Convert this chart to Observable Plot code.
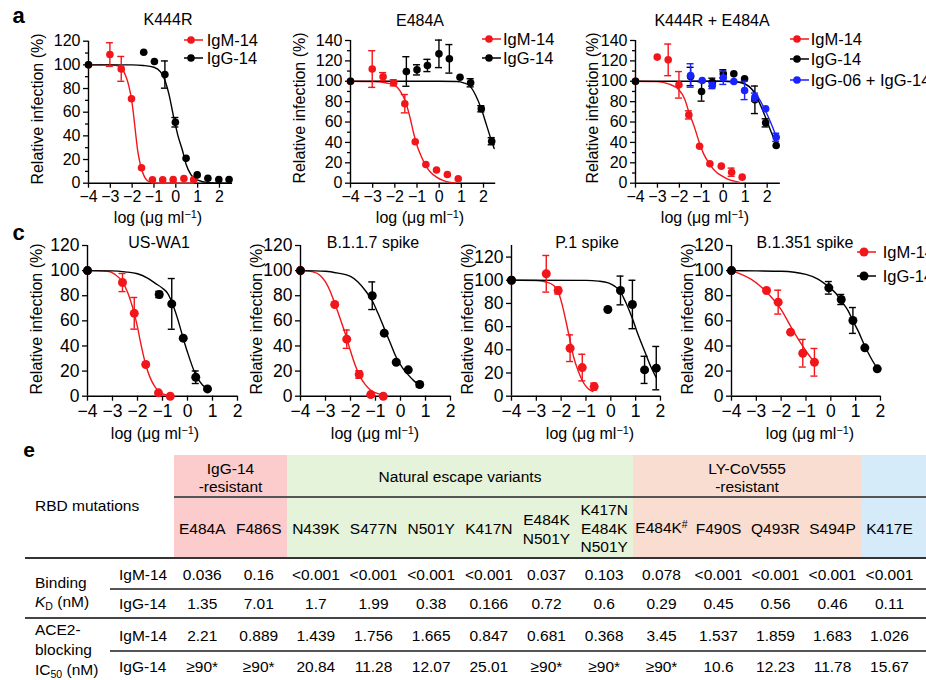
<!DOCTYPE html>
<html><head><meta charset="utf-8">
<script src="https://cdn.jsdelivr.net/npm/d3@7"></script>
<script src="https://cdn.jsdelivr.net/npm/@observablehq/plot@0.6"></script>
<style>
html,body{margin:0;padding:0;background:#fff;}
#fig{position:relative;width:926px;height:680px;overflow:hidden;font-family:"Liberation Sans",Arial,Helvetica,sans-serif;color:#000;}
.abs{position:absolute;white-space:nowrap;line-height:1;}
.c{transform:translate(-50%,-50%);text-align:center;}
.l{transform:translate(0,-50%);}
.rot{transform:translate(-50%,-50%) rotate(-90deg);}
.sup{font-size:0.68em;position:relative;top:-0.5em;}
.sub{font-size:0.68em;position:relative;top:0.3em;}
</style></head><body><div id="fig"></div>
<script>
// ---------- Panel a: K444R ----------
const a1_igm_x = [-4, -3.02, -2.5, -2.03, -1.57, -1.07, -0.6, -0.12, 0.37, 0.82];
const a1_igm_y = [100, 108.7, 96.6, 71.3, 13, 2.8, 2.8, 3, 4, 3];
const a1_igm_e = [0, 10, 10.5, 0, 0, 0, 0, 0, 0, 0];
const a1_igg_x = [-4, -1.47, -0.98, -0.5, -0.02, 0.47, 0.98, 1.47, 1.97, 2.44];
const a1_igg_y = [100, 110.7, 102.8, 91.8, 51.5, 21, 7, 4.2, 3.1, 3.1];
const a1_igg_e = [0, 0, 0, 11.5, 4, 0, 0, 0, 0, 0];
const a1_igm_fx = [-4, -3, -2.7, -2.5, -2.3, -2.15, -2.03, -1.93, -1.84, -1.75, -1.65, -1.57, -1.45, -1.3, -1.1, -0.8, 0.8];
const a1_igm_fy = [100, 100, 99.5, 97.5, 91, 82, 71, 57, 42, 28, 18, 12, 6, 2, 0.5, 0, 0];
const a1_igg_fx = [-4, -2, -1.5, -1, -0.7, -0.5, -0.3, -0.1, 0.1, 0.3, 0.47, 0.7, 1, 1.5, 2.44];
const a1_igg_fy = [100, 100, 99.5, 98, 94, 87, 74, 56, 40, 28, 16, 7, 2.5, 0.5, 0];

// ---------- Panel a: E484A ----------
const a2_igm_x = [-4, -3.02, -2.53, -2.05, -1.55, -1.08, -0.6, -0.12, 0.37, 0.86];
const a2_igm_y = [100, 112, 104.5, 98.5, 78, 40.6, 18.3, 13, 8.5, 4.3];
const a2_igm_e = [0, 18, 4, 3, 9, 0, 0, 0, 0, 0];
const a2_igg_x = [-4, -1.48, -1.0, -0.53, -0.01, 0.46, 0.94, 1.42, 1.9, 2.37];
const a2_igg_y = [100, 109.6, 111.2, 115.5, 126.9, 122, 104, 98.5, 73, 41.2];
const a2_igg_e = [0, 14.5, 5, 6, 13.5, 14, 0, 4, 3, 3.5];
const a2_igm_fx = [-4, -3, -2.5, -2, -1.75, -1.5, -1.3, -1.14, -1.0, -0.8, -0.6, -0.4, -0.12, 0.2, 0.5, 0.75];
const a2_igm_fy = [100, 99.7, 98.8, 96, 90, 79, 63, 48, 37, 26, 17, 11, 6, 2.5, 0.8, 0.3];
const a2_igg_fx = [-4, 0, 0.8, 1.1, 1.4, 1.65, 1.9, 2.15, 2.37, 2.48];
const a2_igg_fy = [100, 100, 99.7, 98.5, 95, 86, 73, 56, 41, 34];

// ---------- Panel a: K444R + E484A ----------
const a3_igm_x = [-4, -3.01, -2.51, -2.02, -1.57, -1.08, -0.61, -0.09, 0.38, 0.86];
const a3_igm_y = [100, 123.7, 121, 96.5, 67, 36.3, 19, 16.7, 10.8, 5.9];
const a3_igm_e = [0, 0, 15.5, 13, 4, 0, 0, 0, 4, 0];
const a3_igg_x = [-4, -1.49, -0.99, -0.5, 0, 0.48, 0.97, 1.44, 1.93, 2.41];
const a3_igg_y = [100, 104.7, 90, 99, 107.3, 107.3, 102.4, 81.8, 59.2, 37];
const a3_igg_e = [0, 9, 9.5, 4, 4, 0, 0, 13.5, 4, 0];
const a3_mix_x = [-1.49, -0.96, -0.5, 0, 0.48, 0.97, 1.44, 1.93, 2.41];
const a3_mix_y = [105.7, 100.7, 95.8, 103.4, 99.8, 91, 84.4, 73, 45];
const a3_mix_e = [11.5, 0, 3, 6.5, 0, 9, 4, 0, 4];
const a3_igm_fx = [-4, -3, -2.5, -2.02, -1.75, -1.57, -1.3, -1.08, -0.9, -0.61, -0.3, -0.09, 0.2, 0.5, 0.72];
const a3_igm_fy = [100, 99.6, 97.5, 91.6, 82, 70, 54, 39, 29, 18.3, 10.5, 7.5, 4, 2, 1];
const a3_igg_fx = [-4, 0, 0.6, 1, 1.3, 1.6, 1.9, 2.15, 2.41];
const a3_igg_fy = [100, 100, 99.5, 97.5, 92, 81, 66, 52, 38];
const a3_mix_fx = [-1.49, 0, 0.6, 1, 1.3, 1.6, 1.9, 2.15, 2.41];
const a3_mix_fy = [100, 100, 99.3, 97, 92.5, 84, 72, 60, 46];

// ---------- Panel c: US-WA1 ----------
const c1_igm_x = [-4, -2.6, -2.13, -1.67, -1.16, -0.69];
const c1_igm_y = [100, 90.5, 66, 25.2, 2.7, 0];
const c1_igm_e = [0, 7.2, 12.6, 0, 0, 0];
const c1_igg_x = [-4, -1.13, -0.63, -0.17, 0.33, 0.8];
const c1_igg_y = [100, 81, 73.5, 46.2, 15.1, 5.8];
const c1_igg_e = [0, 2.5, 20.2, 0, 5, 0];
const c1_igm_fx = [-4, -3.2, -2.9, -2.6, -2.4, -2.2, -2.13, -2.0, -1.87, -1.67, -1.5, -1.3, -1.1, -0.9, -0.69];
const c1_igm_fy = [100, 99.5, 97, 91, 83, 71, 66, 55, 42, 25, 15, 7.5, 3, 1.2, 0.5];
const c1_igg_fx = [-4, -3, -2.5, -2, -1.6, -1.3, -1, -0.8, -0.63, -0.4, -0.17, 0, 0.33, 0.6, 0.8];
const c1_igg_fy = [100, 99.8, 99, 97.5, 94, 90, 86, 82, 75, 62, 46, 35, 17, 9, 6];

// ---------- Panel c: B.1.1.7 spike ----------
const c2_igm_x = [-4, -2.63, -2.15, -1.65, -1.19, -0.69];
const c2_igm_y = [100, 73, 45.4, 17.3, 1.3, 0];
const c2_igm_e = [0, 0, 7.3, 3, 0, 0];
const c2_igg_x = [-4, -1.13, -0.65, -0.17, 0.31, 0.77];
const c2_igg_y = [100, 80, 50.2, 27, 21, 9.3];
const c2_igg_e = [0, 11, 0, 0, 0, 2];
const c2_igm_fx = [-4, -3.5, -3.2, -3, -2.8, -2.63, -2.4, -2.15, -2, -1.8, -1.65, -1.4, -1.2, -0.9, -0.69];
const c2_igm_fy = [100, 99, 96, 91, 83, 74, 61, 46, 36, 24, 17, 9, 5, 2, 1];
const c2_igg_fx = [-4, -3, -2.5, -2, -1.7, -1.4, -1.13, -0.9, -0.65, -0.4, -0.17, 0.1, 0.31, 0.55, 0.77];
const c2_igg_fy = [100, 99.5, 98, 95.5, 91, 84, 76, 66, 54, 42, 31, 22, 17, 12, 8.5];

// ---------- Panel c: P.1 spike ----------
const c3_igm_x = [-4, -2.6, -2.12, -1.64, -1.15, -0.67];
const c3_igm_y = [100, 105.6, 91.2, 41.4, 24.7, 8.3];
const c3_igm_e = [0, 15.8, 3, 11.5, 11.5, 3];
const c3_igg_x = [-4, -0.12, 0.39, 0.87, 1.36, 1.83];
const c3_igg_y = [100, 74.8, 91.2, 79.1, 22.7, 24.2];
const c3_igg_e = [0, 0, 12.4, 20.9, 11.7, 18.7];
const c3_igm_fx = [-4, -3, -2.6, -2.3, -2.1, -1.96, -1.8, -1.64, -1.5, -1.3, -1.15, -1.0, -0.85, -0.72];
const c3_igm_fy = [100, 99.8, 98.5, 95.5, 89, 79, 64, 48, 34, 21, 13.5, 8.5, 5.5, 4];
const c3_igg_fx = [-4, -1, -0.5, -0.1, 0.15, 0.39, 0.6, 0.87, 1.1, 1.36, 1.6, 1.83];
const c3_igg_fy = [100, 99.9, 99.3, 97.8, 95, 90, 81, 67, 53, 39, 26, 16];

// ---------- Panel c: B.1.351 spike ----------
const c4_igm_x = [-4, -2.59, -2.12, -1.62, -1.13, -0.66];
const c4_igm_y = [100, 84.2, 74.9, 51, 34.2, 27];
const c4_igm_e = [0, 0, 9.5, 0, 11, 11];
const c4_igg_x = [-4, -0.08, 0.42, 0.89, 1.37, 1.87];
const c4_igg_y = [100, 86.3, 77, 60.3, 38.5, 21.8];
const c4_igg_e = [0, 5, 4, 10.3, 0, 0];
const c4_igm_fx = [-4, -3.6, -3.2, -2.8, -2.4, -2.0, -1.6, -1.3, -1.0, -0.8, -0.66];
const c4_igm_fy = [100, 97, 93, 87, 79, 69, 55, 45, 36, 30.5, 27];
const c4_igg_fx = [-4, -3, -2, -1, -0.5, -0.08, 0.2, 0.42, 0.7, 0.89, 1.1, 1.37, 1.6, 1.87];
const c4_igg_fy = [100, 99.8, 99.5, 97, 93, 87, 82, 76, 68, 60, 52, 40, 31, 22];

// ---------- Labels ----------
const titlesA = ["K444R", "E484A", "K444R + E484A"];
const titlesC = ["US-WA1", "B.1.1.7 spike", "P.1 spike", "B.1.351 spike"];
const legendNames = ["IgM-14", "IgG-14", "IgG-06 + IgG-14"];
const xTicks = [-4, -3, -2, -1, 0, 1, 2];

// ---------- Panel e table ----------
const groupNames = ["IgG-14\n-resistant", "Natural escape variants", "LY-CoV555\n-resistant", ""];
const groupSpans = [2, 6, 4, 2];
const mutations = ["E484A", "F486S", "N439K", "S477N", "N501Y", "K417N", "E484K\nN501Y", "K417N\nE484K\nN501Y", "E484K#", "F490S", "Q493R", "S494P", "K417E"];
const kdIgM = ["0.036", "0.16", "<0.001", "<0.001", "<0.001", "<0.001", "0.037", "0.103", "0.078", "<0.001", "<0.001", "<0.001", "<0.001"];
const kdIgG = ["1.35", "7.01", "1.7", "1.99", "0.38", "0.166", "0.72", "0.6", "0.29", "0.45", "0.56", "0.46", "0.11"];
const aceIgM = ["2.21", "0.889", "1.439", "1.756", "1.665", "0.847", "0.681", "0.368", "3.45", "1.537", "1.859", "1.683", "1.026"];
const aceIgG = ["≥90*", "≥90*", "20.84", "11.28", "12.07", "25.01", "≥90*", "≥90*", "≥90*", "10.6", "12.23", "11.78", "15.67"];

const RED = "#f2161b", BLACK = "#000000", BLUE = "#1a22ff";
const fig = document.getElementById("fig");
const FONT = '"Liberation Sans", Arial, Helvetica, sans-serif';

function addText(html, x, y, cls, style = "") {
  const d = document.createElement("div");
  d.className = "abs " + cls;
  d.style.cssText = `left:${x}px;top:${y}px;${style}`;
  d.innerHTML = html;
  fig.appendChild(d);
  return d;
}

const fmt = d => d < 0 ? "\u2212" + (-d) : String(d);

function makeChart(cfg) {
  const mL = 70, mR = 25;
  const W = mL + (cfg.xMax + 4) * cfg.ppu + mR;
  const mT = cfg.yTopPx - cfg.svgTop;
  const mB = cfg.svgTop + cfg.svgH - cfg.y0Px;
  const marks = [];
  if (cfg.minor) marks.push(Plot.axisY({ticks: cfg.minor, tickSize: 3, tickFormat: () => "", strokeWidth: 1.3, label: null}));
  marks.push(
    Plot.axisY({ticks: cfg.yTicks, tickSize: 5, tickPadding: 3, strokeWidth: 1.3, label: null}),
    Plot.axisX({ticks: xTicks, tickSize: 5, tickPadding: cfg.xPad, tickFormat: fmt, strokeWidth: 1.3, label: null}),
    Plot.ruleX([-4], {strokeWidth: 1.4}),
    Plot.ruleY([0], {strokeWidth: 1.4})
  );
  for (const s of cfg.fitOrder.map(i => cfg.series[i])) {
    const fit = s.fx.map((x, i) => ({x, y: s.fy[i]}));
    marks.push(Plot.line(fit, {x: "x", y: "y", stroke: s.color, strokeWidth: 1.4, curve: "monotone-x"}));
  }
  for (const s of cfg.series) {
    const pts = s.x.map((x, i) => ({x, y: s.y[i], e: s.e[i]}));
    const err = pts.filter(p => p.e > 0);
    const caps = err.flatMap(p => [
      {x1: p.x - cfg.cap, x2: p.x + cfg.cap, y: p.y + p.e},
      {x1: p.x - cfg.cap, x2: p.x + cfg.cap, y: p.y - p.e}
    ]);
    marks.push(
      Plot.ruleX(err, {x: "x", y1: p => p.y - p.e, y2: p => p.y + p.e, stroke: s.color, strokeWidth: 1.4}),
      Plot.ruleY(caps, {x1: "x1", x2: "x2", y: "y", stroke: s.color, strokeWidth: 1.4}),
      Plot.dot(pts, {x: "x", y: "y", r: cfg.r, fill: s.color})
    );
  }
  const svg = Plot.plot({
    width: W, height: cfg.svgH,
    marginLeft: mL, marginRight: mR, marginTop: mT, marginBottom: mB,
    x: {domain: [-4, cfg.xMax]},
    y: {domain: [0, cfg.yMax]},
    style: {background: "transparent", overflow: "visible", fontSize: cfg.font + "px", fontFamily: FONT, color: "#000"},
    marks
  });
  svg.style.position = "absolute";
  svg.style.left = (cfg.ax - mL) + "px";
  svg.style.top = cfg.svgTop + "px";
  svg.style.maxWidth = "none";
  fig.appendChild(svg);
}

function ser(x, y, e, fx, fy, color) { return {x, y, e, fx, fy, color}; }

const row1 = {svgTop: 0, svgH: 230, y0Px: 182.7, font: 16, xPad: 2.5, r: 3.8, cap: 0.16};
const row2 = {svgTop: 220, svgH: 230, y0Px: 395.7, yTopPx: 245, font: 17.5, xPad: 3.5, r: 4.5, cap: 0.14, xMax: 2, yMax: 120, yTicks: d3.range(0, 121, 20)};

makeChart({...row1, ax: 88, ppu: 21.83, xMax: 2.6, yMax: 120, yTopPx: 40.7, yTicks: d3.range(0, 121, 20), minor: d3.range(10, 120, 20), fitOrder: [0, 1],
  series: [ser(a1_igm_x, a1_igm_y, a1_igm_e, a1_igm_fx, a1_igm_fy, RED), ser(a1_igg_x, a1_igg_y, a1_igg_e, a1_igg_fx, a1_igg_fy, BLACK)]});
makeChart({...row1, ax: 350, ppu: 22.17, xMax: 2.55, yMax: 140, yTopPx: 40, yTicks: d3.range(0, 141, 20), minor: d3.range(10, 140, 20), fitOrder: [0, 1],
  series: [ser(a2_igm_x, a2_igm_y, a2_igm_e, a2_igm_fx, a2_igm_fy, RED), ser(a2_igg_x, a2_igg_y, a2_igg_e, a2_igg_fx, a2_igg_fy, BLACK)]});
makeChart({...row1, ax: 635, ppu: 21.95, xMax: 2.6, yMax: 140, yTopPx: 40, yTicks: d3.range(0, 141, 20), minor: d3.range(10, 140, 20), fitOrder: [0, 2, 1],
  series: [ser(a3_igm_x, a3_igm_y, a3_igm_e, a3_igm_fx, a3_igm_fy, RED), ser(a3_igg_x, a3_igg_y, a3_igg_e, a3_igg_fx, a3_igg_fy, BLACK), ser(a3_mix_x, a3_mix_y, a3_mix_e, a3_mix_fx, a3_mix_fy, BLUE)]});

makeChart({...row2, ax: 86.7, ppu: 25, fitOrder: [0, 1],
  series: [ser(c1_igm_x, c1_igm_y, c1_igm_e, c1_igm_fx, c1_igm_fy, RED), ser(c1_igg_x, c1_igg_y, c1_igg_e, c1_igg_fx, c1_igg_fy, BLACK)]});
makeChart({...row2, ax: 300, ppu: 25, fitOrder: [0, 1],
  series: [ser(c2_igm_x, c2_igm_y, c2_igm_e, c2_igm_fx, c2_igm_fy, RED), ser(c2_igg_x, c2_igg_y, c2_igg_e, c2_igg_fx, c2_igg_fy, BLACK)]});
makeChart({...row2, ax: 511, ppu: 24.83, yMax: 130, yTopPx: 245, fitOrder: [0, 1],
  series: [ser(c3_igm_x, c3_igm_y, c3_igm_e, c3_igm_fx, c3_igm_fy, RED), ser(c3_igg_x, c3_igg_y, c3_igg_e, c3_igg_fx, c3_igg_fy, BLACK)]});
makeChart({...row2, ax: 731, ppu: 24.83, fitOrder: [0, 1],
  series: [ser(c4_igm_x, c4_igm_y, c4_igm_e, c4_igm_fx, c4_igm_fy, RED), ser(c4_igg_x, c4_igg_y, c4_igg_e, c4_igg_fx, c4_igg_fy, BLACK)]});

// titles
[[168, 19.5], [420, 20.5], [712, 20.5]].forEach(([x, y], i) => addText(titlesA[i], x, y, "c", "font-size:16px"));
[[159, 242.5], [373, 242.5], [587, 242.5], [805, 242.5]].forEach(([x, y], i) => addText(titlesC[i], x, y, "c", "font-size:16px"));
// y labels
const ylab = "Relative infection (%)";
[[38, 109], [300, 108], [593, 108], [37, 319], [257, 319], [468, 319], [688, 319]].forEach(([x, y]) => addText(ylab, x, y, "rot", "font-size:16px"));
// x labels
const xlab = 'log (μg ml<span class="sup">−1</span>)';
[[158, 218], [420, 218], [705, 218]].forEach(([x, y]) => addText(xlab, x, y, "c", "font-size:16px"));
[[155, 434], [375, 434], [590, 434], [810, 434]].forEach(([x, y]) => addText(xlab, x, y, "c", "font-size:16px"));
// panel letters
addText("a", 18.5, 15.5, "c", "font-size:22px;font-weight:bold");
addText("c", 18.5, 232.5, "c", "font-size:22px;font-weight:bold");
addText("e", 29, 449, "c", "font-size:21px;font-weight:bold");

// legends
function legend(names, colors, dotX, textX, ys, r) {
  names.forEach((n, i) => {
    const svg = document.createElementNS("http://www.w3.org/2000/svg", "svg");
    svg.setAttribute("width", 30); svg.setAttribute("height", 14);
    svg.style.cssText = `position:absolute;left:${dotX - 15}px;top:${ys[i] - 7}px;overflow:visible`;
    svg.innerHTML = `<line x1="8" x2="27" y1="7" y2="7" stroke="${colors[i]}" stroke-width="1.5"/><circle cx="15" cy="7" r="${r}" fill="${colors[i]}"/>`;
    fig.appendChild(svg);
    addText(n, textX, ys[i], "l", "font-size:16.5px");
  });
}
legend(legendNames.slice(0, 2), [RED, BLACK], 190.7, 206.7, [40, 58.3], 3.8);
legend(legendNames.slice(0, 2), [RED, BLACK], 489, 503, [39.3, 58.3], 3.8);
legend(legendNames, [RED, BLACK, BLUE], 797, 810.7, [39.3, 59, 80], 3.8);
legend(legendNames.slice(0, 2), [RED, BLACK], 864, 882.7, [252.3, 275.7], 4.5);

// ---------- table ----------
const groupColors = ["#fccbcb", "#e5f3da", "#f9ddd1", "#d6ebfa"];
const colW = [56.5, 56.5, 57.67, 57.67, 57.67, 57.67, 57.67, 57.67, 57, 57, 57, 57, 57, 57];
const colX = [174];
colW.forEach(w => colX.push(colX[colX.length - 1] + w));
const colC = colW.map((w, i) => colX[i] + w / 2);
function box(x, y, w, h, bg) {
  const d = document.createElement("div");
  d.style.cssText = `position:absolute;left:${x}px;top:${y}px;width:${w}px;height:${h}px;background:${bg}`;
  fig.appendChild(d);
}
let gi = 0;
groupSpans.forEach((span, g) => {
  const x0 = colX[gi], x1 = colX[gi + span];
  box(x0, 455, x1 - x0, 103, groupColors[g]);
  if (groupNames[g]) addText(groupNames[g].replace(/\n/g, "<br>"), (x0 + x1) / 2, 477, "c", "font-size:15.5px;line-height:17.5px");
  gi += span;
});
// lines
box(174, 496.3, 760, 1.5, "#555");
box(25, 557.3, 910, 1.8, "#333");
box(110, 588.3, 830, 1.4, "#555");
box(25, 617.3, 910, 1.5, "#444");
box(110, 650.3, 830, 1.4, "#555");
// mutations header
mutations.forEach((m, i) => {
  const html = m.replace("#", '<span class="sup">#</span>').replace(/\n/g, "<br>");
  addText(html, colC[i], 529, "c", "font-size:15.5px;line-height:18.5px");
});
addText("RBD mutations", 35, 506, "l", "font-size:15.5px");
addText("Binding", 35, 583, "l", "font-size:15.5px");
addText('<i>K</i><span class="sub">D</span> (nM)', 35, 602, "l", "font-size:15.5px");
addText("ACE2-", 35, 630, "l", "font-size:15.5px");
addText("blocking", 35, 650, "l", "font-size:15.5px");
addText('IC<span class="sub">50</span> (nM)', 35, 670, "l", "font-size:15.5px");
const rowY = [575, 603.5, 635.5, 667];
const rowAb = ["IgM-14", "IgG-14", "IgM-14", "IgG-14"];
[kdIgM, kdIgG, aceIgM, aceIgG].forEach((vals, r) => {
  addText(rowAb[r], 119, rowY[r], "l", "font-size:15.5px");
  vals.forEach((v, i) => addText(v, colC[i], rowY[r], "c", "font-size:15.5px"));
});
</script></body></html>
